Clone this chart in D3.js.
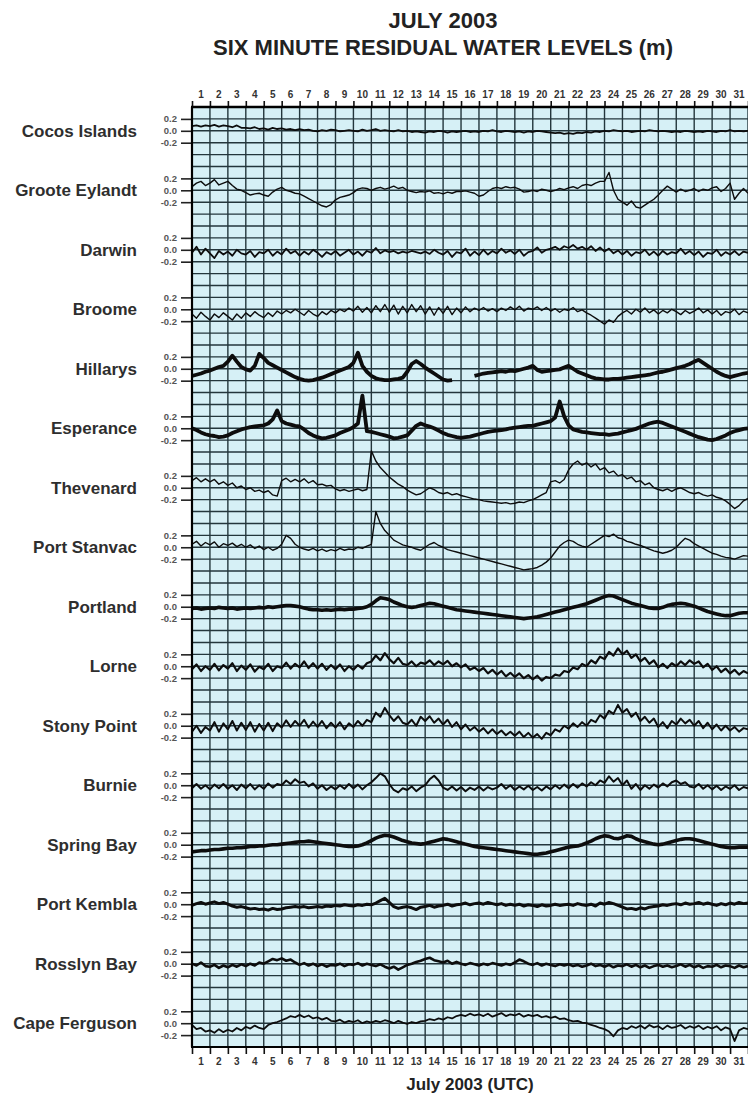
<!DOCTYPE html>
<html>
<head>
<meta charset="utf-8">
<script src="https://cdn.jsdelivr.net/npm/d3@7"></script>
<style>
  body { margin: 0; background: #fff; }
  svg { display: block; font-family: "Liberation Sans", Arial, sans-serif; }
</style>
</head>
<body>
<svg id="chart" width="748" height="1097"></svg>
<script>
// residuals in cm, one value every 6 hours from 1 July 2003 00:00 UTC
const STEP_DAYS = 0.25;

const stations = ["Cocos Islands", "Groote Eylandt", "Darwin", "Broome", "Hillarys", "Esperance",
  "Thevenard", "Port Stanvac", "Portland", "Lorne", "Stony Point", "Burnie", "Spring Bay",
  "Port Kembla", "Rosslyn Bay", "Cape Ferguson"];

const dayLabels = d3.range(1, 32);
const levelTicks = [0.2, 0.0, -0.2];

const cocos = [
  8,9,7,9, 8,10,7,9, 8,6,9,5, 5,4,6,3,
  4,2,5,3, 4,2,3,1, 3,1,2,0, -1,1,0,2,
  1,-1,0,1, 0,-1,2,0, 1,3,0,1, 0,-1,1,-1,
  0,-2,-1,-2, -3,-1,-2,0, -1,-3,-1,-2, -1,0,-2,-1,
  -2,0,-1,1, -1,-2,0,-1, -2,-1,-3,-1, -2,0,-1,-2,
  -3,-4,-3,-5, -4,-5,-3,-4, -2,-3,-1,-2, 0,-1,1,0,
  -1,0,-2,-1, 0,-1,1,0, -1,0,-1,-2, -1,-2,0,-1,
  -2,-1,-2,0, -1,-2,0,-1, 1,-1,0,-1, 0];
const groote = [
  6,12,15,8, 12,18,9,12, 15,8,2,0, -4,-8,-6,-5,
  -8,-10,-3,2, 5,0,-2,-5, -6,-10,-14,-18, -22,-26,-28,-24,
  -16,-12,-10,-8, -4,2,4,3, 0,3,5,2, 4,7,3,5,
  0,-2,-4,-2, -3,-1,-5,-4, -6,-3,-5,-2, -2,-1,-3,-5,
  -10,-8,-2,3, 5,3,6,4, 5,2,-3,-2, 0,-2,2,0,
  -2,0,3,1, 4,6,3,8, 10,8,12,15, 15,30,0,-15,
  -20,-25,-18,-28, -30,-25,-20,-15, -8,0,7,2, -3,2,-2,0,
  3,-2,2,0, 4,6,-2,3, 12,-15,-5,3, -5];
const darwin = [
  -5,5,-8,2, -6,-14,-2,-8, -3,-10,0,-6, -8,-2,-12,-4,
  -6,0,-10,-3, -8,2,-6,-2, -10,-3,-8,0, -5,-12,-4,-8,
  -2,-10,-5,0, -8,-3,-10,-2, -5,3,-6,-1, -4,-2,-6,-3,
  -5,-2,-4,-6, -3,-7,0,-5, -8,-2,-12,-4, -6,2,-10,-3,
  -9,0,-8,-2, -6,2,-5,-1, -7,0,-10,-4, -2,4,-5,0,
  2,5,0,6, 3,8,2,5, 0,6,-2,4, -3,2,-6,-1,
  -8,-2,-10,-4, -6,0,-9,-3, -10,-2,-8,-4, -6,2,-7,-2,
  -9,-3,-12,-5, -7,0,-10,-4, -8,-2,-9,-3, -5];
const broome = [
  -8,-15,-5,-12, -18,-8,-14,-6, -12,-18,-8,-15, -6,-12,-4,-10,
  -14,-6,-12,-3, -8,-2,-6,0, -5,-10,-2,-8, -12,-4,-9,-2,
  -6,0,-4,2, -3,5,-5,3, -6,6,-4,8, -5,7,-8,5,
  -6,8,-4,6, -8,4,-10,3, -7,5,-9,2, -6,4,-4,2,
  -2,3,-3,1, -4,2,-2,4, -1,5,-3,2, 0,4,-2,3,
  -3,1,-5,0, -2,3,-4,-1, -6,-10,-15,-20, -25,-18,-22,-12,
  -6,-2,-8,0, -5,2,-6,-1, -8,-2,-6,0, -4,-9,-2,-7,
  -3,2,-6,-1, -8,-2,-10,-4, -6,0,-9,-3, -6];
const hillarys = [
  -12,-10,-8,-5, -3,0,3,5, 12,22,12,3, -1,-3,5,25,
  18,10,6,2, -2,-6,-10,-14, -17,-19,-20,-19, -17,-15,-12,-9,
  -6,-3,0,3, 10,27,5,-5, -12,-16,-18,-19, -19,-18,-17,-15,
  -5,8,13,8, 2,-3,-8,-13, -18,-20,-19,null, null,null,null,-12,
  -10,-8,-7,-6, -5,-4,-5,-3, -4,-2,0,2, 5,-2,-5,-4,
  -3,-2,-1,2, 5,0,-5,-8, -11,-14,-16,-17, -18,-18,-17,-17,
  -16,-15,-14,-13, -12,-11,-10,-8, -6,-5,-3,-1, 1,3,5,8,
  12,15,10,5, 0,-5,-9,-12, -14,-12,-10,-8, -7];
const esperance = [
  0,-3,-7,-10, -12,-13,-15,-14, -12,-8,-5,-2, 0,2,3,4,
  5,8,15,30, 12,8,6,4, 3,-2,-8,-12, -15,-17,-16,-14,
  -12,-8,-5,-2, 2,8,55,-5, -6,-8,-10,-12, -14,-17,-16,-14,
  -12,-4,4,8, 5,3,0,-4, -8,-11,-13,-15, -16,-15,-14,-12,
  -10,-8,-6,-5, -4,-3,-2,0, 1,2,3,4, 4,6,8,10,
  12,18,45,20, 5,-2,-4,-6, -7,-8,-9,-10, -10,-11,-10,-9,
  -7,-5,-3,-1, 2,5,8,10, 11,9,6,3, 0,-3,-6,-9,
  -12,-15,-17,-19, -20,-18,-15,-12, -8,-5,-3,-1, 0];
const thevenard = [
  12,17,10,15, 10,14,6,10, 4,8,0,3, -3,0,-6,-4,
  -8,-5,-12,-14, 12,16,10,14, 10,15,8,12, 5,6,3,4,
  -2,-5,-3,-6, -4,-2,-5,-3, 62,45,34,26, 18,12,6,2,
  -4,-8,-12,-10, -5,0,-3,-8, -10,-8,-12,-10, -13,-15,-17,-19,
  -20,-22,-23,-24, -25,-26,-25,-27, -26,-24,-25,-22, -20,-16,-12,-8,
  10,12,8,14, 30,40,45,38, 42,35,40,30, 34,25,28,20,
  22,15,18,10, 12,5,8,0, -3,-5,-2,-6, -2,0,-4,-8,
  -10,-8,-12,-14, -12,-16,-18,-22, -28,-35,-30,-22, -18];
const portStanvac = [
  5,10,2,8, 4,9,0,6, 3,7,1,5, 0,4,-2,2,
  -4,0,-5,-2, 5,20,15,5, 0,-3,-5,-2, -6,-3,-7,-4,
  -6,-2,-5,-3, -4,0,-2,2, 5,60,40,28, 20,12,8,4,
  2,0,-3,-5, 0,5,8,3, 0,-4,-6,-8, -10,-12,-14,-16,
  -18,-20,-22,-24, -26,-28,-30,-32, -34,-36,-38,-37, -36,-34,-30,-25,
  -18,-8,2,8, 12,10,5,2, 0,5,10,15, 20,18,22,16,
  14,10,8,5, 3,0,-3,-6, -8,-10,-8,-5, 0,8,15,12,
  6,2,-2,-6, -10,-12,-15,-17, -18,-20,-17,-14, -15];
const portland = [
  -3,-2,-4,-3, -2,-3,-1,-2, -3,-2,-4,-3, -2,-3,-2,-1,
  -2,0,-1,0, 1,2,2,1, 0,-2,-4,-5, -5,-6,-5,-6,
  -5,-4,-5,-4, -4,-3,-2,0, 4,10,15,14, 12,8,5,2,
  0,-1,0,2, 4,6,5,3, 1,-1,-3,-5, -6,-7,-8,-9,
  -10,-11,-12,-13, -14,-15,-16,-17, -18,-19,-20,-19, -18,-17,-15,-13,
  -11,-9,-7,-5, -3,-1,1,3, 5,8,11,14, 17,19,18,15,
  12,9,6,4, 2,0,-2,-3, -3,-1,2,4, 5,6,5,3,
  1,-2,-5,-8, -10,-12,-14,-15, -15,-13,-11,-10, -10];
const lorne = [
  -5,3,-8,0, -6,4,-7,2, -4,5,-8,1, -6,3,-9,-1,
  -5,4,-8,0, -3,6,-4,4, -2,8,-3,5, -4,4,-6,2,
  -5,3,-8,0, -6,2,-4,5, 8,18,10,22, 12,5,14,4,
  2,8,0,6, 4,10,2,8, 3,9,0,5, -2,3,-6,-2,
  -8,-3,-12,-6, -14,-8,-17,-11, -18,-12,-20,-15, -22,-16,-24,-18,
  -20,-14,-16,-8, -10,-2,-5,4, 0,10,5,16, 12,24,18,30,
  20,26,14,20, 8,14,4,10, -2,4,-3,5, 0,8,2,10,
  4,8,-2,4, -6,0,-10,-4, -12,-6,-14,-8, -12];
const stonyPoint = [
  -10,0,-12,-2, -8,6,-10,4, -6,8,-8,5, -7,6,-10,3,
  -8,5,-9,4, -3,9,-2,8, 0,10,-3,7, -2,8,-4,5,
  -3,6,-6,4, -2,8,0,10, 6,22,15,30, 18,8,16,5,
  2,10,0,15, 8,16,5,12, 2,10,-2,6, -6,2,-8,-2,
  -10,-4,-13,-6, -14,-8,-16,-10, -17,-10,-19,-12, -20,-14,-22,-12,
  -16,-6,-10,0, -5,4,-2,6, 0,10,6,18, 12,25,20,35,
  22,28,15,22, 8,15,5,12, -2,6,-4,8, 2,12,4,10,
  0,8,-4,5, -6,2,-8,0, -8,-2,-10,-4, -6];
const burnie = [
  -5,2,-6,0, -7,1,-5,2, -6,0,-8,1, -5,2,-7,0,
  -6,3,-4,2, 0,8,2,10, 4,6,-2,3, -6,0,-8,-2,
  -7,0,-6,2, -5,1,-7,0, 5,12,20,15, 2,-8,-12,-5,
  -8,-2,-10,-4, 0,10,16,8, -4,-8,-2,-9, -3,-10,-4,-8,
  -2,-9,-3,-7, -4,2,-6,0, -8,-2,-7,-1, -8,-3,-9,-2,
  -7,0,-6,1, -5,2,-4,3, -2,5,0,8, 4,15,6,12,
  0,8,-6,2, -8,0,-6,1, -4,3,-2,5, 8,2,5,-2,
  -4,2,-6,0, -7,-1,-8,-2, -6,0,-8,-3, -5];
const springBay = [
  -12,-11,-10,-10, -9,-8,-8,-7, -6,-6,-5,-5, -4,-3,-3,-2,
  -2,-1,0,0, 1,2,3,4, 5,5,6,5, 4,3,2,1,
  0,-1,-2,-3, -3,-2,0,3, 7,11,14,16, 15,13,10,7,
  5,3,2,1, 2,4,6,8, 10,9,7,5, 3,1,-1,-3,
  -4,-5,-6,-7, -8,-9,-10,-11, -12,-13,-14,-15, -16,-16,-15,-14,
  -12,-10,-8,-6, -4,-3,-2,0, 3,6,10,13, 15,14,11,10,
  12,15,14,10, 7,5,3,1, 0,1,3,5, 7,9,10,10,
  9,7,5,3, 1,-1,-3,-4, -5,-5,-4,-4, -4];
const portKembla = [
  -2,1,3,0, 2,4,1,3, 0,-3,-5,-4, -6,-8,-7,-9,
  -8,-10,-7,-9, -8,-6,-5,-4, -5,-4,-6,-5, -4,-5,-3,-4,
  -2,-3,-1,-2, -3,-1,-2,0, -1,2,6,10, 3,-4,-7,-5,
  -4,-6,-9,-5, -4,-2,-5,-3, -2,0,-3,-1, 0,2,-1,1,
  2,0,3,1, -1,1,-2,0, -2,0,-3,-1, -2,-4,-1,-3,
  -2,0,-2,-1, 0,-2,1,-1, -2,0,-3,2, 0,3,1,-2,
  -5,-8,-7,-9, -6,-8,-5,-4, -3,-1,-2,0, 1,-1,2,0,
  1,3,0,2, 0,-2,1,-1, 2,0,3,1, 2];
const rosslynBay = [
  0,-3,2,-4, -5,-2,-7,-3, -6,-2,-5,-1, -4,0,-3,2,
  0,4,8,6, 9,5,7,2, -2,1,-3,0, -4,-1,-5,-2,
  -3,0,-4,-1, -2,1,-3,0, -2,-4,-1,-5, -8,-5,-10,-6,
  -2,0,3,5, 8,10,6,4, 2,5,0,3, 0,-2,1,-1,
  -3,0,-2,1, -1,-3,0,-2, 2,7,4,0, -2,1,-3,0,
  -2,-4,-1,-3, -1,-4,-2,-5, -3,0,-4,-2, -5,-2,-6,-3,
  -4,-1,-5,-2, -6,-3,-7,-4, -2,-5,-3,-6, -4,-1,-5,-2,
  -6,-3,-7,-4, -5,-2,-6,-3, -4,-7,-3,-6, -4];
const capeFerguson = [
  -3,-10,-8,-14, -12,-16,-10,-15, -11,-14,-8,-12, -6,-9,-4,-8,
  -10,-3,0,2, 5,8,12,10, 14,10,13,8, 10,6,9,4,
  3,6,1,4, 2,5,0,3, 1,4,2,5, 3,0,4,1,
  -1,2,0,3, 4,7,5,8, 6,10,8,12, 14,12,16,13,
  15,12,16,11, 14,17,12,15, 13,16,11,14, 12,14,10,12,
  9,11,7,8, 5,3,4,1, 0,-3,-5,-8, -10,-14,-22,-12,
  -8,-10,-5,-8, -4,-9,-3,-7, -5,-10,-4,-8, -6,-3,-9,-5,
  -8,-4,-10,-6, -9,-5,-12,-7, -10,-30,-12,-8, -10];

const series = [cocos, groote, darwin, broome, hillarys, esperance, thevenard, portStanvac,
  portland, lorne, stonyPoint, burnie, springBay, portKembla, rosslynBay, capeFerguson];

// trace thickness: the noisier gauges look like thick bands
const traceWidth = [1.8, 1.4, 1.8, 1.4, 3.8, 3.8, 1.4, 1.4, 3.6, 2.2, 2, 2, 3.6, 3, 2.6, 1.8];

const svg = d3.select('#chart');

const x = d3.scaleLinear().domain([0, 31]).range([192, 748]);
// each station is stacked 1 m below the previous one
const y = d3.scaleLinear().domain([0.4, -15.4]).range([107, 1047]);
const days = d3.scaleBand().domain(dayLabels).range(x.range());
const plotTop = y.range()[0], plotBottom = y.range()[1];

svg.append('defs').append('clipPath').attr('id', 'plot-clip')
  .append('rect')
    .attr('x', x(0)).attr('y', plotTop)
    .attr('width', x(31) - x(0)).attr('height', plotBottom - plotTop);

svg.append('rect')
  .attr('x', x(0)).attr('y', plotTop)
  .attr('width', x(31) - x(0)).attr('height', plotBottom - plotTop)
  .attr('fill', '#d6f0f6');

// grid: every 0.2 m and every day
const grid = svg.append('g').attr('stroke', '#23363c').attr('stroke-width', 1.4);
grid.selectAll('line.h')
  .data(d3.range(0, 80).map(k => 0.4 - k * 0.2))
  .enter().append('line')
    .attr('class', 'h')
    .attr('x1', x(0)).attr('x2', x(31))
    .attr('y1', d => y(d)).attr('y2', d => y(d));
grid.selectAll('line.v')
  .data(d3.range(0, 32))
  .enter().append('line')
    .attr('class', 'v')
    .attr('x1', d => x(d)).attr('x2', d => x(d))
    .attr('y1', plotTop).attr('y2', plotBottom);

// traces
const line = d3.line()
  .defined(d => d.v != null)
  .x(d => x(d.t))
  .y(d => y(d.v));

const traces = svg.append('g').attr('clip-path', 'url(#plot-clip)');
series.forEach(function(vals, i) {
  const pts = vals.map((cm, k) => ({ t: k * STEP_DAYS, v: cm == null ? null : cm / 100 - i }));
  traces.append('path')
    .datum(pts)
    .attr('fill', 'none')
    .attr('stroke', '#0d0d0d')
    .attr('stroke-width', traceWidth[i])
    .attr('stroke-linejoin', 'round')
    .attr('d', line);
});

// axes
const yAxis = d3.axisLeft(y)
  .tickValues(stations.flatMap((s, i) => levelTicks.map(v => v - i)))
  .tickFormat((v, k) => levelTicks[k % 3].toFixed(1))
  .tickSize(11)
  .tickPadding(4);
const yAxisG = svg.append('g').attr('transform', `translate(${x(0)},0)`).call(yAxis);
yAxisG.select('.domain').remove();
yAxisG.selectAll('.tick line').attr('stroke', '#222').attr('stroke-width', 1.6);
yAxisG.selectAll('.tick text')
  .attr('font-size', 9.5).attr('font-weight', 'bold').attr('fill', '#555')
  .attr('font-family', '"Liberation Sans", Arial, sans-serif');

const topTicks = svg.append('g').attr('transform', `translate(0,${plotTop})`)
  .call(d3.axisTop(x).tickValues(d3.range(0, 32)).tickSize(6).tickFormat(''));
const topLabels = svg.append('g').attr('transform', `translate(0,${plotTop})`)
  .call(d3.axisTop(days).tickSize(0).tickPadding(9));
const botTicks = svg.append('g').attr('transform', `translate(0,${plotBottom})`)
  .call(d3.axisBottom(x).tickValues(d3.range(0, 32)).tickSize(7).tickFormat(''));
const botLabels = svg.append('g').attr('transform', `translate(0,${plotBottom})`)
  .call(d3.axisBottom(days).tickSize(0).tickPadding(11));

[topTicks, topLabels, botTicks, botLabels].forEach(function(g) {
  g.select('.domain').remove();
  g.selectAll('.tick line').attr('stroke', '#111').attr('stroke-width', 1.6);
  g.selectAll('.tick text')
    .attr('font-size', 10).attr('font-weight', 'bold').attr('fill', '#333')
    .attr('font-family', '"Liberation Sans", Arial, sans-serif');
});

// frame lines
svg.append('line').attr('x1', x(0) - 1).attr('x2', x(31)).attr('y1', plotTop).attr('y2', plotTop)
  .attr('stroke', '#000').attr('stroke-width', 2.5);
svg.append('line').attr('x1', x(0) - 1).attr('x2', x(31)).attr('y1', plotBottom).attr('y2', plotBottom)
  .attr('stroke', '#000').attr('stroke-width', 2.2);
svg.append('line').attr('x1', x(0)).attr('x2', x(0)).attr('y1', plotTop).attr('y2', plotBottom)
  .attr('stroke', '#000').attr('stroke-width', 2.2);

// station names
svg.append('g').selectAll('text')
  .data(stations)
  .enter().append('text')
    .attr('x', 137)
    .attr('y', (d, i) => y(-i))
    .attr('dy', '0.36em')
    .attr('text-anchor', 'end')
    .attr('font-size', 17)
    .attr('font-weight', 'bold')
    .attr('fill', '#2e2e2e')
    .text(d => d);

// titles
const title = svg.append('g').attr('font-weight', 'bold').attr('fill', '#222')
  .attr('text-anchor', 'middle').attr('font-size', 22);
title.append('text').attr('x', 443).attr('y', 28).text('JULY 2003');
title.append('text').attr('x', 443).attr('y', 55).text('SIX MINUTE RESIDUAL WATER LEVELS (m)');

svg.append('text')
  .attr('x', (x(0) + x(31)) / 2).attr('y', 1090)
  .attr('text-anchor', 'middle')
  .attr('font-size', 17).attr('font-weight', 'bold').attr('fill', '#222')
  .text('July 2003 (UTC)');
</script>
</body>
</html>
